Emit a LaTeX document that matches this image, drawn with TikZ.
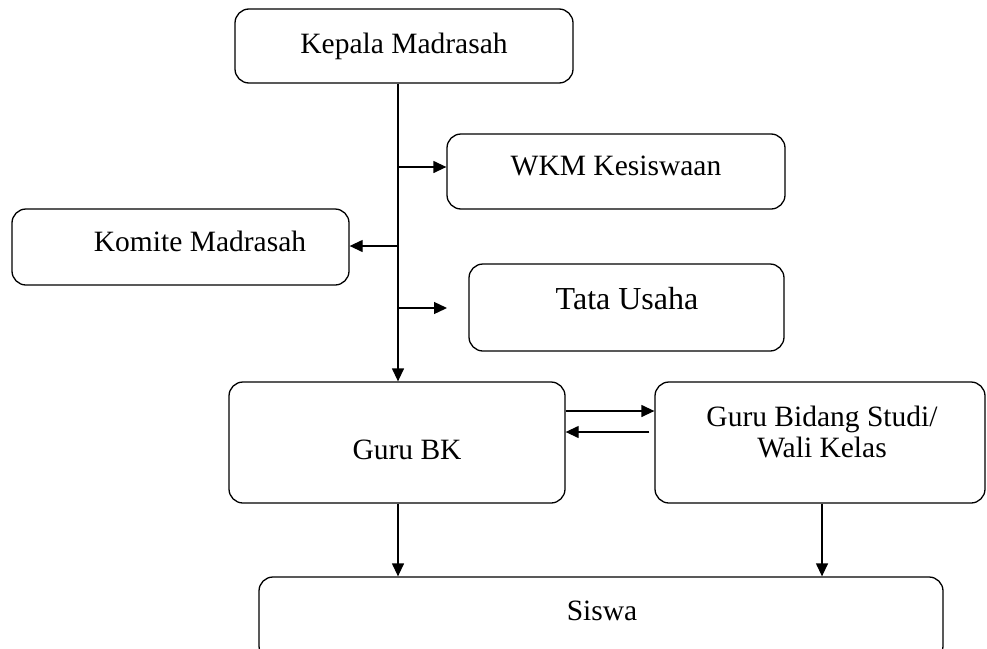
\documentclass[tikz,border=0pt]{standalone}
\usepackage{fontspec}
\setmainfont{Liberation Serif}
\usetikzlibrary{arrows.meta}
\begin{document}
\begin{tikzpicture}[x=1pt,y=-1pt,
 box/.style={draw,line width=1.3pt,rounded corners=14pt,inner sep=0pt},
 lbl/.style={anchor=base,inner sep=0pt,font=\fontsize{29.5}{24}\selectfont},
 arr/.style={line width=1.3pt,-{Triangle[length=13pt,width=12pt]}}]
\useasboundingbox (0,0) rectangle (987,648);
% boxes
\node[box,minimum width=338pt,minimum height=74pt] (kepala) at (404,46) {};
\node[box,minimum width=338pt,minimum height=75pt] (wkm) at (616,171.5) {};
\node[box,minimum width=337pt,minimum height=76pt] (komite) at (180.5,247) {};
\node[box,minimum width=315pt,minimum height=87pt] (tata) at (626.5,307.5) {};
\node[box,minimum width=336pt,minimum height=121pt] (bk) at (397,442.5) {};
\node[box,minimum width=330pt,minimum height=121pt] (gbs) at (820,442.5) {};
\node[box,minimum width=684pt,minimum height=83pt] (siswa) at (601,618.5) {};
% labels
\node[lbl] (tkepala) at (404,53) {Kepala Madrasah};
\node[lbl] (twkm) at (616,175) {WKM Kesiswaan};
\node[lbl] (tkomite) at (200,251) {Komite Madrasah};
\node[lbl,font=\fontsize{32}{36}\selectfont] (ttata) at (627,309) {Tata Usaha};
\node[lbl] (tbk) at (407,459) {Guru BK};
\node[lbl] (tgbs1) at (822,426) {Guru Bidang Studi/};
\node[lbl] (tgbs2) at (822,457) {Wali Kelas};
\node[lbl] (tsiswa) at (602,620) {Siswa};
% connectors
\coordinate (trunk) at (398,0);
\coordinate (trunk2) at (822,0);
\coordinate (b1) at (398,167);
\coordinate (b2) at (398,246);
\coordinate (b3) at (398,308);
\coordinate (b3e) at (447,308);
\coordinate (h1) at (0,411);
\coordinate (h2) at (0,432);
\draw[arr] (kepala.south -| trunk) -- (bk.north -| trunk);
\draw[arr] (b1) -- (wkm.west |- b1);
\draw[arr] (b2) -- (komite.east |- b2);
\draw[arr] (b3) -- (b3e);
\draw[arr] (bk.east |- h1) -- (gbs.west |- h1);
\draw[arr] ([xshift=-5pt]gbs.west |- h2) -- (bk.east |- h2);
\draw[arr] (bk.south -| trunk) -- (siswa.north -| trunk);
\draw[arr] (gbs.south -| trunk2) -- (siswa.north -| trunk2);
\end{tikzpicture}
\end{document}
